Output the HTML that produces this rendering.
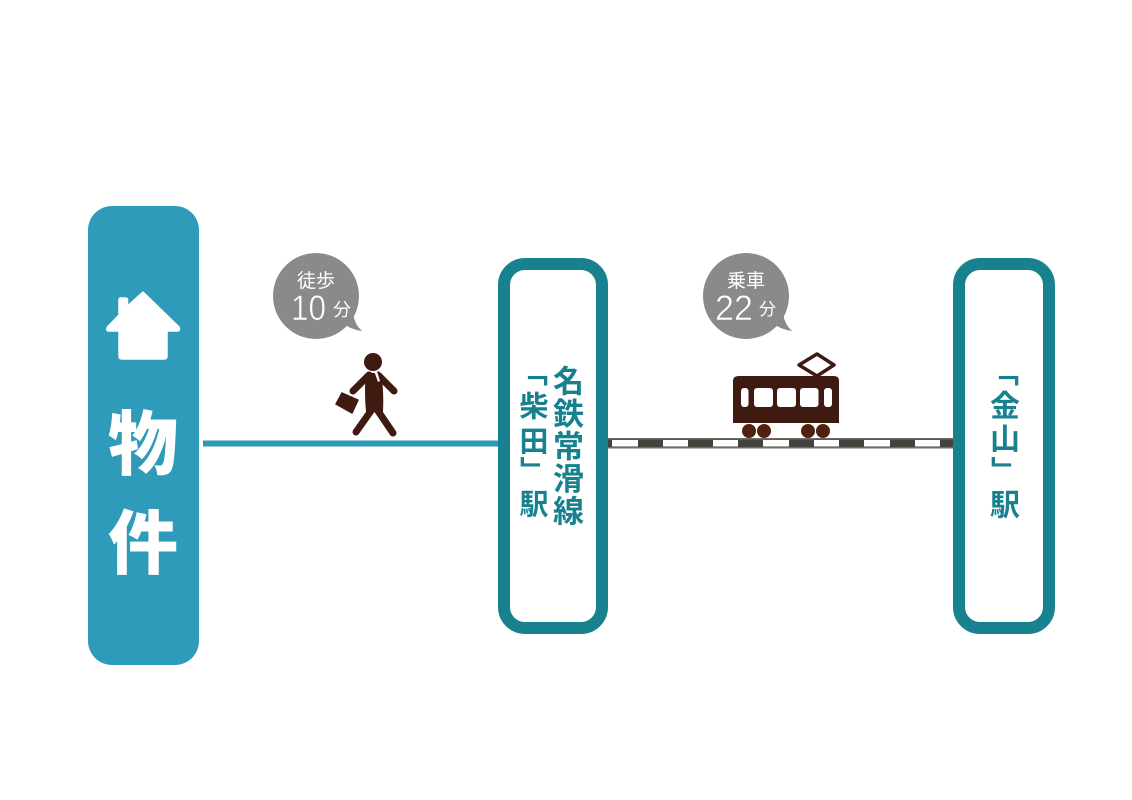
<!DOCTYPE html>
<html lang="ja">
<head>
<meta charset="utf-8">
<title>物件からのアクセス</title>
<style>
html,body{margin:0;padding:0;background:#fff;}
#p{position:relative;width:1132px;height:800px;overflow:hidden;background:#fff;font-family:"Liberation Sans","Noto Sans CJK JP",sans-serif;}
svg{position:absolute;left:0;top:0;}
.v{position:absolute;writing-mode:vertical-rl;white-space:nowrap;font-weight:700;color:#17818f;font-family:"Noto Sans CJK JP",sans-serif;line-height:1;}
.t{font-family:"Noto Sans CJK JP",sans-serif;}
</style>
</head>
<body>
<div id="p">
<svg width="1132" height="800" viewBox="0 0 1132 800" xmlns="http://www.w3.org/2000/svg">
  <!-- connectors -->
  <rect x="203" y="440.5" width="296" height="6" fill="#2b9ab5"/>
  <rect x="608" y="438" width="347" height="10.5" fill="#45433e"/>
  <g fill="#fff">
    <rect x="612" y="440" width="26" height="6.5"/>
    <rect x="663" y="440" width="25" height="6.5"/>
    <rect x="713" y="440" width="25" height="6.5"/>
    <rect x="763" y="440" width="26" height="6.5"/>
    <rect x="814" y="440" width="25" height="6.5"/>
    <rect x="864" y="440" width="26" height="6.5"/>
    <rect x="915" y="440" width="25" height="6.5"/>
  </g>
  <rect x="608" y="438" width="347" height="1.5" fill="#6f6e6a"/>
  <rect x="608" y="447" width="347" height="1.5" fill="#6f6e6a"/>
  <!-- property -->
  <rect x="88" y="206" width="111" height="459" rx="24" fill="#2e9bbb"/>
  <path d="M143 292 L179 327 Q180.5 331 177 331 L167 331 L167 356 Q167 359 164 359 L122 359 Q119 359 119 356 L119 331 L109 331 Q105.5 331 107.5 327 L119 315 L119 300 Q119 298 121 298 L125.500 298 Q127.500 298 127.500 300 L127.500 306 Z" fill="#fff" stroke="#fff" stroke-width="1.5" stroke-linejoin="round"/>
  <text class="t" x="143" y="469" font-size="70" font-weight="900" fill="#fff" text-anchor="middle">物</text>
  <text class="t" x="143" y="568" font-size="70" font-weight="900" fill="#fff" text-anchor="middle">件</text>
  <!-- stations -->
  <rect x="504" y="264" width="98" height="364" rx="21" fill="#fff" stroke="#17818f" stroke-width="12"/>
  <rect x="959" y="264" width="90" height="364" rx="21" fill="#fff" stroke="#17818f" stroke-width="12"/>
  <!-- bubbles -->
  <circle cx="316" cy="296" r="43" fill="#8a8a8a"/>
  <path d="M353 314 Q355 325 362 331 Q354 330 347 326 Z" fill="#8a8a8a"/>
  <text class="t" x="316" y="287" font-size="19" fill="#fff" text-anchor="middle">徒歩</text>
  <text x="291" y="320" font-size="35" fill="#fff" stroke="#8a8a8a" stroke-width="0.6" textLength="35" lengthAdjust="spacingAndGlyphs" font-family="Liberation Sans, sans-serif">10</text>
  <text class="t" x="333" y="316" font-size="18" fill="#fff">分</text>
  <circle cx="746" cy="296" r="43" fill="#8a8a8a"/>
  <path d="M783 314 Q785 325 792 331 Q784 330 777 326 Z" fill="#8a8a8a"/>
  <text class="t" x="746" y="287" font-size="19" fill="#fff" text-anchor="middle">乗車</text>
  <text x="715" y="320" font-size="35" fill="#fff" stroke="#8a8a8a" stroke-width="0.6" textLength="38" lengthAdjust="spacingAndGlyphs" font-family="Liberation Sans, sans-serif">22</text>
  <text class="t" x="759" y="315" font-size="17" fill="#fff">分</text>
  <!-- person -->
  <g fill="#3e1a10">
    <circle cx="373" cy="362" r="9"/>
    <path d="M366 373 L381 373 Q384 390 383 412 L366 412 Q364 390 366 373 Z"/>
    <g stroke="#3e1a10" stroke-width="7" stroke-linecap="round" fill="none">
      <path d="M369 375 L353 391"/>
      <path d="M378 375 L394 391"/>
      <path d="M373 408 L356 432"/>
      <path d="M376 408 L393 433"/>
    </g>
    <path d="M342 393 L358 400 L352 413 L336 404 Z" stroke="#3e1a10" stroke-width="1.500" stroke-linejoin="round"/>
  </g>
  <path d="M374.500 372 L377 371.500 L380 381 L378 382 Z" fill="#fff"/>
  <!-- train -->
  <path d="M817 354 L834 365 L817 376 L799 365 Z" fill="#fff" stroke="#3e1a10" stroke-width="3.5" stroke-linejoin="round"/>
  <path d="M739 376 L834 376 Q839 376 839 381 L839 423 L733 423 L733 381 Q733 376 739 376 Z" fill="#3e1a10"/>
  <g fill="#fff">
    <rect x="741" y="388" width="7.5" height="19" rx="3"/>
    <rect x="754" y="388" width="19" height="19" rx="3"/>
    <rect x="777" y="388" width="19" height="19" rx="3"/>
    <rect x="800" y="388" width="18.5" height="19" rx="3"/>
    <rect x="824" y="388" width="8" height="19" rx="3"/>
  </g>
  <g fill="#4f2110">
    <circle cx="749" cy="431" r="7"/>
    <circle cx="764" cy="431" r="7"/>
    <circle cx="808" cy="431" r="7"/>
    <circle cx="823" cy="431" r="7"/>
  </g>
</svg>
<div class="v" style="left:553px;top:365px;font-size:31px;letter-spacing:1.5px;">名鉄常滑線</div>

<div class="v" style="left:520px;top:358px;font-size:28px;">「</div>
<div class="v" style="left:519px;top:391px;font-size:29px;">柴</div>
<div class="v" style="left:519px;top:426px;font-size:29px;">田</div>
<div class="v" style="left:520px;top:456px;font-size:28px;">」</div>
<div class="v" style="left:519px;top:489px;font-size:29px;">駅</div>

<div class="v" style="left:991px;top:358px;font-size:28px;">「</div>
<div class="v" style="left:990px;top:390px;font-size:30px;">金</div>
<div class="v" style="left:990px;top:423px;font-size:30px;">山</div>
<div class="v" style="left:991px;top:456px;font-size:28px;">」</div>
<div class="v" style="left:990px;top:489px;font-size:30px;">駅</div>
</div>
</body>
</html>
